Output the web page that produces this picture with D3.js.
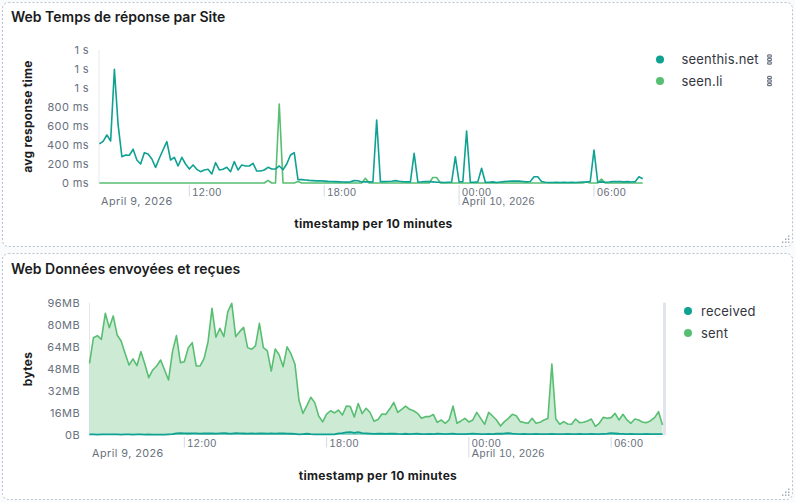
<!DOCTYPE html>
<html><head><meta charset="utf-8">
<script src="https://cdn.jsdelivr.net/npm/d3@7/dist/d3.min.js"></script>
<style>
html,body{margin:0;padding:0;background:#fafbfd;}
svg{display:block;font-family:Inter,"Noto Sans",sans-serif;}
</style></head><body>
<svg id="c" width="795" height="502"></svg>
<script>
// ---------- DATA ----------
const startTime = Date.UTC(2026, 3, 9, 8, 0); // April 9, 2026 08:00, 10-minute buckets
const stepMs = 10 * 60 * 1000;
const seriesNamesTop = ["seenthis.net", "seen.li"];
const seriesNamesBottom = ["received", "sent"];

// avg response time (ms) — seenthis.net
const seenthis = [
411,439,505,442,1197,611,277,295,292,355,
242,200,319,305,253,165,260,350,435,242,
270,179,270,200,147,190,144,119,137,144,
95,214,137,144,165,119,225,137,190,179,
179,207,126,126,137,165,147,147,179,140,
200,295,319,36,36,32,28,25,22,23,
20,17,15,14,12,10,9,12,25,23,
10,12,12,10,663,14,14,16,18,25,
18,14,12,12,312,10,12,16,14,12,
8,8,6,8,10,277,10,14,547,8,
8,12,155,8,8,12,6,10,14,18,
20,20,20,16,12,16,66,66,16,8,
6,6,8,6,8,6,8,6,8,10,
12,16,347,8,12,8,10,14,16,14,
12,14,10,14,66,45];

// avg response time (ms) — seen.li
const seenli = [
0,0,0,0,0,0,0,0,0,0,
0,0,0,0,0,0,0,0,0,0,
0,0,0,0,0,0,0,0,0,0,
0,0,0,0,0,0,0,0,0,0,
0,0,0,0,0,28,0,0,832,0,
0,0,0,15,0,0,0,0,0,0,
0,0,0,0,0,0,0,0,0,0,
0,50,0,0,0,0,0,0,0,0,
0,0,0,0,0,0,0,0,0,58,
58,0,0,0,0,0,0,0,0,0,
0,0,0,0,0,0,0,0,0,0,
0,0,0,0,0,0,0,0,0,0,
0,0,0,0,0,0,0,0,0,0,
10,0,0,0,42,0,0,0,0,0,
0,0,0,0,0,0];

// bytes sent (MB)
const sent = [
52.0,70.6,72.1,69.4,88.3,77.9,86.4,72.6,68.2,59.3,
50.8,55.2,50.3,60.5,51.5,41.6,47.2,50.1,54.4,47.2,
39.9,60.5,72.1,52.5,53.2,63.4,67.0,50.1,50.1,55.6,
67.7,91.9,70.9,77.4,71.4,89.5,95.6,71.4,75.0,78.1,
63.4,62.2,64.6,81.0,63.4,61.0,46.4,62.4,58.1,49.6,
64.0,58.8,51.3,25.4,15.7,21.3,27.4,23.5,13.8,9.5,
15.1,17.6,16.0,18.1,14.5,21.0,20.6,13.0,22.8,15.5,
19.4,16.3,10.0,11.2,15.2,15.0,19.0,23.6,16.4,18.6,
21.0,18.6,17.6,15.7,12.1,13.3,13.3,14.9,9.2,10.9,
8.5,10.9,21.0,8.5,10.2,12.1,9.5,10.9,16.4,12.1,
7.8,16.4,13.8,10.9,6.5,9.7,12.1,15.0,14.0,9.7,
9.0,8.5,12.1,8.5,9.2,10.9,12.0,51.5,11.6,7.8,
9.7,8.0,7.8,11.6,9.0,9.2,10.2,11.6,6.3,8.5,
12.8,12.1,12.6,15.7,10.9,15.0,10.9,8.5,11.6,10.9,
9.2,9.0,10.4,12.6,16.9,7.3];

// bytes received (MB)
const received = [
0.4,0.4,0.3,0.4,0.4,0.5,0.4,0.4,0.3,0.4,
0.4,0.3,0.4,0.4,0.3,0.4,0.3,0.3,0.2,0.3,
0.5,0.6,1.2,1.3,1.2,1.1,1.2,1.2,1.0,1.1,
1.2,1.1,1.0,1.2,1.3,1.1,1.0,1.3,1.2,1.1,
1.0,1.1,1.0,1.2,1.1,1.0,1.1,1.0,1.1,1.2,
1.0,0.9,0.8,0.5,0.7,0.9,0.6,0.5,0.4,0.4,
0.5,0.5,0.5,1.2,1.3,1.9,2.1,1.5,2.0,1.4,
1.2,1.0,0.8,0.9,1.0,0.8,0.9,1.0,0.8,0.7,
0.9,0.7,0.8,0.9,0.7,0.6,0.8,0.7,0.9,0.8,
0.7,0.8,0.9,0.7,0.6,0.7,0.8,0.9,0.8,0.6,
0.7,0.8,0.7,0.9,0.9,1.1,1.4,1.0,0.8,0.7,
0.8,0.7,0.6,0.8,0.7,0.6,0.7,0.8,0.7,0.6,
0.7,0.8,0.6,0.7,0.8,0.7,0.6,0.8,0.7,0.6,
0.8,1.0,1.3,1.1,0.9,0.8,0.7,0.8,0.7,0.6,
0.7,0.8,0.7,0.6,0.7,0.6];

const yTicksTop = [0,200,400,600,800,1000,1200,1400];
const yTicksBottomMB = [0,16,32,48,64,80,96];

const times = seenthis.map((_, i) => new Date(startTime + i * stepMs));
const domainStart = new Date(startTime);
const domainEnd = new Date(startTime + 145 * stepMs);

// ---------- STYLE ----------
const TEAL = "#0fa192", GREEN = "#58be72";
const TXT = "#1a1c21", TICK = "#69707d", GRID = "#e4e8ee";
const MB = 1048576;

const svg = d3.select("#c");

function panel(y, h) {
  svg.append("rect").attr("x", 2.5).attr("y", y).attr("width", 790).attr("height", h)
    .attr("rx", 6).attr("fill", "#fff").attr("stroke", "#b9c1cd")
    .attr("stroke-dasharray", "2,2").attr("stroke-width", 1);
  const hx = 784, hy = y + h - 9;
  [[4,0],[4,-3],[1,0],[4,-6],[1,-3],[-2,0]].forEach(([dx,dy]) =>
    svg.append("rect").attr("x", hx + dx).attr("y", hy + dy + 4).attr("width", 1.4).attr("height", 1.4).attr("fill", "#98a2b3"));
}
panel(2.5, 244);
panel(253.5, 246);

function title(t, y) {
  svg.append("text").attr("x", 11).attr("y", y).attr("font-size", 14).attr("font-weight", 600)
    .attr("fill", TXT).text(t);
}
title("Web Temps de réponse par Site", 22);
title("Web Données envoyées et reçues", 274);

function xAxis(x, yAxis, firstX, firstBase, lineLen, tickLen, labelBase, dateGap) {
  const ticks = x.ticks(d3.utcHour.every(6)).filter(d => +d > +domainStart);
  const g = svg.append("g").attr("transform", `translate(0,${yAxis})`);
  g.call(d3.axisBottom(x).tickValues(ticks).tickSize(0).tickFormat(""))
   .call(s => s.select(".domain").remove());
  ticks.forEach(d => {
    const isMid = d.getUTCHours() === 0;
    g.append("line").attr("x1", x(d)).attr("x2", x(d)).attr("y1", 0)
      .attr("y2", isMid ? lineLen : tickLen).attr("stroke", "#d3dae6").attr("stroke-width", 1);
    const t = g.append("text").attr("x", x(d) + 3).attr("y", labelBase).attr("font-size", 10.8)
      .attr("text-anchor", "start").attr("fill", TICK).attr("letter-spacing", 0.45);
    t.append("tspan").attr("x", x(d) + 3).text(d3.utcFormat("%H:%M")(d));
    if (isMid) t.append("tspan").attr("x", x(d) + 3).attr("dy", dateGap).text(d3.utcFormat("%B %-d, %Y")(d));
  });
  svg.append("text").attr("x", firstX).attr("y", firstBase).attr("font-size", 10.8).attr("text-anchor", "start")
    .attr("fill", TICK).attr("letter-spacing", 0.45).text(d3.utcFormat("%B %-d, %Y")(domainStart));
}

function legend(items, colors, dotX, textX, ys, menu) {
  items.forEach((n, i) => {
    svg.append("circle").attr("cx", dotX).attr("cy", ys[i]).attr("r", 4).attr("fill", colors[i]);
    svg.append("text").attr("x", textX).attr("y", ys[i] + 4.5).attr("font-size", 13)
      .attr("fill", "#343741").attr("letter-spacing", 0.2).text(n);
    if (menu) {
      [-3.5, 0, 3.5].forEach(dy => svg.append("rect").attr("x", 767.6).attr("y", ys[i] + dy - 1.2)
        .attr("width", 3.8).attr("height", 2.4).attr("rx", 1).attr("fill", "#fff")
        .attr("stroke", "#6f7785").attr("stroke-width", 1.2));
    }
  });
}

// ---------- TOP CHART ----------
{
  const x = d3.scaleUtc().domain([domainStart, domainEnd]).range([99.4, 642.7]);
  const y = d3.scaleLinear().domain([0, 1400]).range([183, 50]);
  svg.append("line").attr("x1", 99).attr("x2", 99).attr("y1", 50).attr("y2", 184).attr("stroke", GRID);
  const gy = svg.append("g").attr("transform", "translate(99,0)");
  gy.call(d3.axisLeft(y).tickValues(yTicksTop).tickSize(0).tickPadding(10)
      .tickFormat(v => v < 1000 ? `${v} ms` : `${Math.round(v / 1000)} s`))
    .call(s => s.select(".domain").remove())
    .selectAll("text").attr("font-size", 11).attr("fill", TICK).attr("font-family", "Inter").attr("letter-spacing", 0.4);
  svg.append("text").attr("transform", "translate(32,116.5) rotate(-90)").attr("text-anchor", "middle")
    .attr("font-size", 12).attr("font-weight", 700).attr("fill", TXT).attr("letter-spacing", 0.3).text("avg response time");
  xAxis(x, 185, 101, 205, 20.5, 11.5, 11.2, 9);
  svg.append("text").attr("x", 373.5).attr("y", 228).attr("text-anchor", "middle")
    .attr("font-size", 12).attr("font-weight", 700).attr("fill", TXT).attr("letter-spacing", 0.3).text("timestamp per 10 minutes");
  const line = d3.line().x((d, i) => x(times[i])).y(d => y(d));
  svg.append("path").datum(seenli).attr("d", line).attr("fill", "none").attr("stroke", GREEN)
    .attr("stroke-width", 1.6).attr("stroke-linejoin", "round");
  svg.append("path").datum(seenthis).attr("d", line).attr("fill", "none").attr("stroke", TEAL)
    .attr("stroke-width", 1.6).attr("stroke-linejoin", "round");
  legend(seriesNamesTop, [TEAL, GREEN], 660, 681.5, [59.5, 81], true);
}

// ---------- BOTTOM CHART ----------
{
  const x = d3.scaleUtc().domain([domainStart, domainEnd]).range([89.5, 662.5]);
  const y = d3.scaleLinear().domain([0, 96 * MB]).range([435, 302.7]);
  svg.append("line").attr("x1", 89.5).attr("x2", 89.5).attr("y1", 302.7).attr("y2", 436).attr("stroke", GRID);
  svg.append("rect").attr("x", 663).attr("y", 302.7).attr("width", 3).attr("height", 132.3).attr("fill", "#e1e5eb");
  const gy = svg.append("g").attr("transform", "translate(89.5,0)");
  gy.call(d3.axisLeft(y).tickValues(yTicksBottomMB.map(v => v * MB)).tickSize(0).tickPadding(9.5)
      .tickFormat(v => v === 0 ? "0B" : `${Math.round(v / MB)}MB`))
    .call(s => s.select(".domain").remove())
    .selectAll("text").attr("font-size", 11).attr("fill", TICK).attr("font-family", "Inter").attr("letter-spacing", 0.4);
  svg.append("text").attr("transform", "translate(32,369) rotate(-90)").attr("text-anchor", "middle")
    .attr("font-size", 12).attr("font-weight", 700).attr("fill", TXT).attr("letter-spacing", 0.3).text("bytes");
  xAxis(x, 437, 92, 457, 20.7, 10.5, 10.2, 9.3);
  svg.append("text").attr("x", 378).attr("y", 480).attr("text-anchor", "middle")
    .attr("font-size", 12).attr("font-weight", 700).attr("fill", TXT).attr("letter-spacing", 0.3).text("timestamp per 10 minutes");
  const area = d3.area().x((d, i) => x(times[i])).y0(y(0)).y1(d => y(d * MB));
  const line = d3.line().x((d, i) => x(times[i])).y(d => y(d * MB));
  svg.append("path").datum(sent).attr("d", area).attr("fill", GREEN).attr("fill-opacity", 0.3);
  svg.append("path").datum(sent).attr("d", line).attr("fill", "none").attr("stroke", GREEN)
    .attr("stroke-width", 1.6).attr("stroke-linejoin", "round");
  svg.append("path").datum(received).attr("d", area).attr("fill", TEAL).attr("fill-opacity", 0.3);
  svg.append("path").datum(received).attr("d", line).attr("fill", "none").attr("stroke", TEAL)
    .attr("stroke-width", 1.8).attr("stroke-linejoin", "round");
  legend(seriesNamesBottom, [TEAL, GREEN], 688, 701, [311, 333], false);
}
</script>
</body></html>
